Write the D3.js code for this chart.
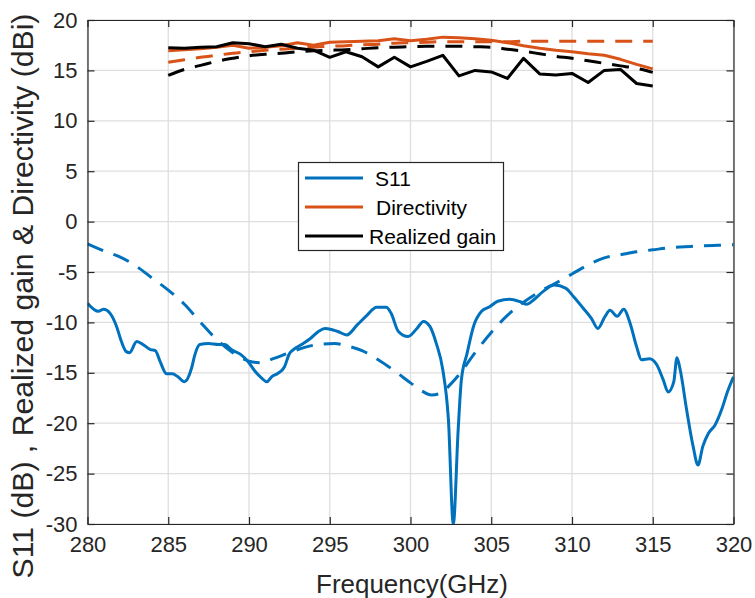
<!DOCTYPE html>
<html>
<head>
<meta charset="utf-8">
<script src="https://cdn.jsdelivr.net/npm/d3@7"></script>
<style>
  html, body { margin: 0; padding: 0; background: #fff; }
  svg { display: block; font-family: "Liberation Sans", Arial, Helvetica, sans-serif; }
</style>
</head>
<body>
<svg id="chart" width="755" height="598"></svg>
<script>
// ---------- data ----------
const xTicks = [280, 285, 290, 295, 300, 305, 310, 315, 320];
const yTicks = [-30, -25, -20, -15, -10, -5, 0, 5, 10, 15, 20];

// Measured S11 (solid blue)
const s11MeasFreq = [280.0,280.67,281.0,281.4,281.8,282.1,282.4,282.6,283.05,283.35,283.9,284.2,284.5,284.9,285.25,285.6,286.0,286.45,286.65,286.95,287.5,288.1,288.5,288.9,289.5,289.95,290.4,290.8,291.1,291.4,291.8,292.2,292.5,292.75,293.25,293.8,294.3,294.7,295.2,295.5,296.05,296.7,297.3,297.9,298.5,298.8,299.25,299.85,300.4,300.8,301.2,301.6,302.0,302.35,302.65,302.95,303.15,303.5,303.9,304.4,304.9,305.4,306.15,306.8,307.2,307.6,308.2,308.9,309.6,310.1,310.7,311.2,311.6,312.05,312.35,312.8,313.2,313.6,314.0,314.3,314.8,315.25,315.65,315.95,316.3,316.5,316.7,317.1,317.5,317.8,318.1,318.45,318.85,319.3,319.6,320.0];
const s11MeasVal  = [-8.1,-8.9,-8.7,-9.1,-10.4,-11.9,-12.9,-13.0,-11.9,-12.1,-12.7,-12.8,-13.9,-15.1,-15.1,-15.4,-15.9,-14.5,-13.2,-12.2,-12.1,-12.2,-12.2,-12.7,-13.2,-13.9,-14.9,-15.55,-15.9,-15.4,-15.05,-14.4,-13.1,-12.7,-12.2,-11.6,-10.9,-10.6,-10.75,-10.9,-11.25,-10.25,-9.3,-8.5,-8.5,-9.1,-10.9,-11.4,-10.6,-9.9,-10.4,-12.1,-14.7,-19.7,-30.0,-20.7,-15.7,-13.1,-10.4,-8.9,-8.45,-7.9,-7.7,-7.95,-8.2,-7.8,-6.95,-6.3,-6.6,-7.45,-8.6,-9.6,-10.6,-9.4,-8.8,-9.4,-8.7,-10.1,-12.4,-13.7,-13.6,-14.2,-15.7,-16.9,-15.9,-13.5,-14.7,-18.7,-22.3,-24.15,-22.3,-21.0,-20.2,-18.5,-17.0,-15.4];

// Simulated S11 (dashed blue)
const s11SimFreq = [280,281,282,283,284,285,286,287,288,289,290,290.7,291.5,292.5,293.5,294.5,295.3,296,297,298,299,300,300.7,301.3,301.9,302.5,303,304,305,306,307,308,309,310,311,312,313,314,315,316,317,318,319,320];
const s11SimVal  = [-2.2,-2.9,-3.5,-4.4,-5.6,-6.8,-8.2,-10.0,-11.7,-13.0,-13.85,-14.0,-13.6,-13.0,-12.45,-12.15,-12.1,-12.3,-12.8,-13.7,-14.8,-16.0,-16.8,-17.2,-17.0,-16.1,-15.2,-13.0,-11.0,-9.3,-8.0,-6.95,-6.1,-5.2,-4.3,-3.6,-3.3,-3.0,-2.8,-2.6,-2.5,-2.4,-2.35,-2.3];

// Gain / directivity frequencies (1 GHz steps)
const gainFreq = [285,286,287,288,289,290,291,292,293,294,295,296,297,298,299,300,301,302,303,304,305,306,307,308,309,310,311,312,313,314,315];
const dirMeas  = [16.95,17.05,17.15,17.3,17.5,17.2,17.3,17.45,17.75,17.5,17.8,17.85,17.9,17.95,18.15,17.95,18.1,18.3,18.25,18.15,18.0,17.75,17.45,17.2,17.0,16.85,16.65,16.5,16.1,15.6,15.15];
const dirSim   = [15.8,16.05,16.3,16.5,16.7,16.85,17.0,17.1,17.2,17.3,17.4,17.45,17.55,17.6,17.7,17.75,17.8,17.85,17.85,17.85,17.85,17.85,17.9,17.9,17.9,17.9,17.9,17.9,17.9,17.9,17.9];
const gainMeas = [17.25,17.2,17.3,17.35,17.75,17.65,17.35,17.6,17.2,17.0,16.3,16.85,16.35,15.35,16.3,15.35,15.9,16.5,14.45,15.0,14.85,14.2,16.2,14.65,14.55,14.7,13.8,15.0,15.1,13.7,13.45];
const gainSim  = [14.5,15.1,15.5,15.9,16.2,16.45,16.6,16.7,16.85,16.95,17.0,17.05,17.15,17.25,17.3,17.35,17.4,17.4,17.4,17.35,17.3,17.1,16.9,16.65,16.4,16.2,15.95,15.7,15.45,15.2,14.8];

const legendLabels = ["S11", "Directivity", "Realized gain"];
const xLabel = "Frequency(GHz)";
const yLabel = "S11 (dB) ,  Realized gain & Directivity (dBi)";

// ---------- styling ----------
const C_BLUE = "#0072BD", C_ORANGE = "#D95319", C_BLACK = "#000000";
const AX = "#262626";
const LW = 3;
const DASH = "17,11";

const svg = d3.select("#chart");
const pL = 87.5, pR = 733.5, pT = 20, pB = 524;

const x = d3.scaleLinear().domain([280, 320]).range([pL, pR]);
const y = d3.scaleLinear().domain([-30, 20]).range([pB, pT]);

// grid
const grid = svg.append("g");
grid.selectAll("line.vx").data(xTicks).join("line")
  .attr("x1", d => x(d)).attr("x2", d => x(d)).attr("y1", pT).attr("y2", pB)
  .attr("stroke", "#dedede").attr("stroke-width", 1.3);
grid.selectAll("line.hy").data(yTicks).join("line")
  .attr("y1", d => y(d)).attr("y2", d => y(d)).attr("x1", pL).attr("x2", pR)
  .attr("stroke", "#dedede").attr("stroke-width", 1.3);

// clip
svg.append("clipPath").attr("id", "clip").append("rect")
  .attr("x", pL).attr("y", pT - 2).attr("width", pR - pL).attr("height", pB - pT + 2);

const plot = svg.append("g").attr("clip-path", "url(#clip)");

function drawLine(xs, ys, color, dashed, curve) {
  const pts = xs.map((d, i) => [d, ys[i]]);
  const line = d3.line().x(d => x(d[0])).y(d => y(d[1])).curve(curve);
  plot.append("path").attr("d", line(pts))
    .attr("fill", "none").attr("stroke", color).attr("stroke-width", LW)
    .attr("stroke-linejoin", "round")
    .attr("stroke-dasharray", dashed ? DASH : null);
}

drawLine(s11SimFreq, s11SimVal, C_BLUE, true, d3.curveMonotoneX);
drawLine(gainFreq, dirSim, C_ORANGE, true, d3.curveMonotoneX);
drawLine(gainFreq, gainSim, C_BLACK, true, d3.curveMonotoneX);
drawLine(gainFreq, dirMeas, C_ORANGE, false, d3.curveLinear);
drawLine(gainFreq, gainMeas, C_BLACK, false, d3.curveLinear);
drawLine(s11MeasFreq, s11MeasVal, C_BLUE, false, d3.curveMonotoneX);

// axes
const fmt = d => String(d);  // plain hyphen-minus like the reference
const xAxisB = d3.axisBottom(x).tickValues(xTicks).tickFormat(fmt).tickSizeInner(-7).tickSizeOuter(0).tickPadding(12);
const xAxisT = d3.axisTop(x).tickValues(xTicks).tickSizeInner(-7).tickSizeOuter(0).tickFormat("");
const yAxisL = d3.axisLeft(y).tickValues(yTicks).tickFormat(fmt).tickSizeInner(-7).tickSizeOuter(0).tickPadding(10);
const yAxisR = d3.axisRight(y).tickValues(yTicks).tickSizeInner(-7).tickSizeOuter(0).tickFormat("");

function styleAxis(g) {
  g.select(".domain").attr("stroke", AX).attr("stroke-width", 1.2);
  g.selectAll(".tick line").attr("stroke", AX).attr("stroke-width", 1.2);
  g.selectAll(".tick text").attr("fill", AX).attr("font-size", 22)
    .attr("font-family", "'Liberation Sans', Arial, sans-serif");
}
svg.append("g").attr("transform", `translate(0,${pB})`).call(xAxisB).call(styleAxis);
svg.append("g").attr("transform", `translate(0,${pT})`).call(xAxisT).call(styleAxis);
svg.append("g").attr("transform", `translate(${pL},0)`).call(yAxisL).call(styleAxis);
svg.append("g").attr("transform", `translate(${pR},0)`).call(yAxisR).call(styleAxis);

// axis labels (font size fitted to the reference extents)
function fitText(sel, target) {
  const len = sel.node().getComputedTextLength();
  const fs = +sel.attr("font-size");
  if (len > 0) sel.attr("font-size", (fs * target / len).toFixed(2));
}
const xl = svg.append("text").attr("x", 412).attr("y", 593)
  .attr("text-anchor", "middle").attr("fill", AX).attr("font-size", 24).text(xLabel);
fitText(xl, 192);
const yl = svg.append("text").attr("transform", `translate(33,296) rotate(-90)`)
  .attr("text-anchor", "middle").attr("fill", AX).attr("font-size", 24).text(yLabel);
fitText(yl, 565);

// legend
const lg = svg.append("g");
lg.append("rect").attr("x", 298.5).attr("y", 162.5).attr("width", 205).attr("height", 88)
  .attr("fill", "#fff").attr("stroke", AX).attr("stroke-width", 1.2);
const legColors = [C_BLUE, C_ORANGE, C_BLACK];
const legY = [178, 207, 236];
const legTextX = [375, 376, 369];
legendLabels.forEach((lab, i) => {
  lg.append("line").attr("x1", 305).attr("x2", 363).attr("y1", legY[i]).attr("y2", legY[i])
    .attr("stroke", legColors[i]).attr("stroke-width", LW);
  lg.append("text").attr("x", legTextX[i]).attr("y", legY[i] + 7.5)
    .attr("fill", "#000").attr("font-size", 21).text(lab);
});
</script>
</body>
</html>
